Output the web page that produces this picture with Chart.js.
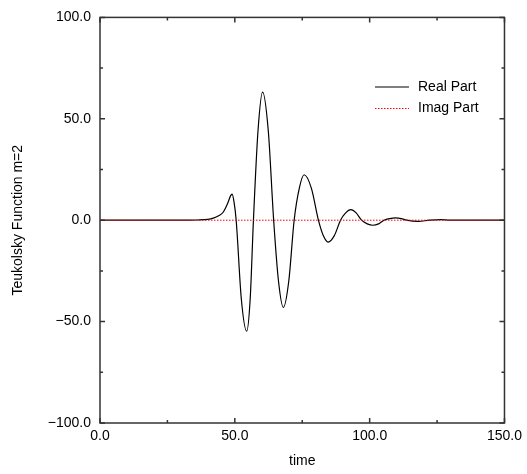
<!DOCTYPE html>
<html>
<head>
<meta charset="utf-8">
<script src="https://cdn.jsdelivr.net/npm/chart.js@4/dist/chart.umd.min.js"></script>
<style>
  body { margin: 0; background: #fff; }
  canvas { display: block; }
</style>
</head>
<body>
<canvas id="teukolskyChart" width="527" height="474"></canvas>
<script>
// 読み取ったデータ (time, Real Part)
const timeValues = [
  0, 30, 36, 40, 42, 44, 45.6, 47.4, 48.4, 49.0, 49.7, 50.5, 52.4, 54.4, 55.7, 56.9,
  58.6, 60.3, 62.4, 64.4, 66.2, 68.0, 70.0, 72.0, 73.9, 75.7, 78.4, 81.0, 82.8, 84.6,
  86.9, 89.2, 91.1, 93.0, 95.0, 97.0, 99.1, 101.2, 103.3, 105.3, 107.5, 109.6, 111.7,
  113.7, 118.0, 122.2, 126.2, 130, 150
];
const realPart = [
  0, 0, 0.1, 0.4, 1.0, 2.2, 3.8, 8.5, 12.0, 12.9, 9.0, 0, -38.7, -54.7, -38.7, 0,
  44.2, 63.2, 44.2, 0, -30.1, -43.0, -30.1, 0, 15.7, 22.4, 15.7, 0, -7.6, -10.8,
  -7.6, 0, 3.6, 5.2, 3.6, 0, -1.8, -2.5, -1.8, 0, 0.8, 1.1, 0.8,
  0, -0.6, 0, 0.3, 0, 0
];
const imagTime = [0, 150];
const imagPart = [0, 0];

const xMajorTicks = [0, 50, 100, 150];
const xMinorTicks = [25, 75, 125];
const yMajorTicks = [-100, -50, 0, 50, 100];
const yMinorTicks = [-75, -25, 25, 75];

const fontFamily = "'Liberation Sans', Arial, Helvetica, sans-serif";

// 枠と内向きの目盛り
const framePlugin = {
  id: "frame",
  afterDraw(chart) {
    const ctx = chart.ctx;
    const { left, right, top, bottom } = chart.chartArea;
    const xs = chart.scales.x;
    const ys = chart.scales.y;
    ctx.save();
    ctx.strokeStyle = "#333";
    ctx.lineWidth = 1.5;
    ctx.strokeRect(left, top, right - left, bottom - top);
    ctx.beginPath();
    const xTick = (v, len) => {
      const px = xs.getPixelForValue(v);
      ctx.moveTo(px, bottom); ctx.lineTo(px, bottom - len);
      ctx.moveTo(px, top); ctx.lineTo(px, top + len);
    };
    const yTick = (v, len) => {
      const py = ys.getPixelForValue(v);
      ctx.moveTo(left, py); ctx.lineTo(left + len, py);
      ctx.moveTo(right, py); ctx.lineTo(right - len, py);
    };
    xMajorTicks.forEach(v => xTick(v, 5));
    xMinorTicks.forEach(v => xTick(v, 3));
    yMajorTicks.forEach(v => yTick(v, 5));
    yMinorTicks.forEach(v => yTick(v, 3));
    ctx.stroke();

    // 凡例
    ctx.font = "14px " + fontFamily;
    ctx.textBaseline = "middle";
    ctx.fillStyle = "#000";
    chart.data.datasets.forEach((ds, i) => {
      const y = 87 + i * 21.5;
      ctx.beginPath();
      ctx.strokeStyle = ds.borderColor;
      ctx.lineWidth = ds.borderWidth;
      ctx.setLineDash(ds.borderDash || []);
      ctx.moveTo(375, y);
      ctx.lineTo(409, y);
      ctx.stroke();
      ctx.setLineDash([]);
      ctx.fillText(ds.label, 418, y);
    });
    ctx.restore();
  },
};

const minus = (v) => v.toFixed(1).replace("-", "\u2212");

new Chart(document.getElementById("teukolskyChart"), {
  type: "line",
  data: {
    datasets: [
      {
        label: "Real Part",
        data: timeValues.map((t, i) => ({ x: t, y: realPart[i] })),
        borderColor: "#000",
        borderWidth: 1.2,
        pointRadius: 0,
        cubicInterpolationMode: "monotone",
        order: 2,
      },
      {
        label: "Imag Part",
        data: imagTime.map((t, i) => ({ x: t, y: imagPart[i] })),
        borderColor: "#ff0000",
        borderWidth: 1,
        borderDash: [1.5, 1.5],
        pointRadius: 0,
        order: 1,
      },
    ],
  },
  options: {
    responsive: false,
    animation: false,
    devicePixelRatio: 1,
    layout: { padding: { top: 15, right: 21, left: 0, bottom: 0 } },
    plugins: {
      legend: { display: false },
      tooltip: { enabled: false },
    },
    scales: {
      x: {
        type: "linear",
        min: 0,
        max: 150,
        afterFit: (scale) => { scale.height = 51; },
        afterBuildTicks: (scale) => { scale.ticks = xMajorTicks.map(v => ({ value: v })); },
        grid: { display: false, drawTicks: false },
        border: { display: false },
        ticks: {
          padding: 5,
          color: "#000",
          font: { size: 14, family: fontFamily },
          callback: minus,
          maxRotation: 0,
        },
        title: {
          display: true,
          text: "time",
          color: "#000",
          font: { size: 14, family: fontFamily },
          padding: { top: 0, bottom: 4 },
        },
      },
      y: {
        type: "linear",
        min: -100,
        max: 100,
        afterFit: (scale) => { scale.width = 100; },
        afterBuildTicks: (scale) => { scale.ticks = yMajorTicks.map(v => ({ value: v })); },
        grid: { display: false, drawTicks: false },
        border: { display: false },
        ticks: {
          padding: 9,
          color: "#000",
          font: { size: 14, family: fontFamily },
          callback: minus,
        },
        title: {
          display: true,
          text: "Teukolsky Function m=2",
          color: "#000",
          font: { size: 14, family: fontFamily },
          padding: { top: 10, bottom: 0 },
        },
      },
    },
  },
  plugins: [framePlugin],
});
</script>
</body>
</html>
